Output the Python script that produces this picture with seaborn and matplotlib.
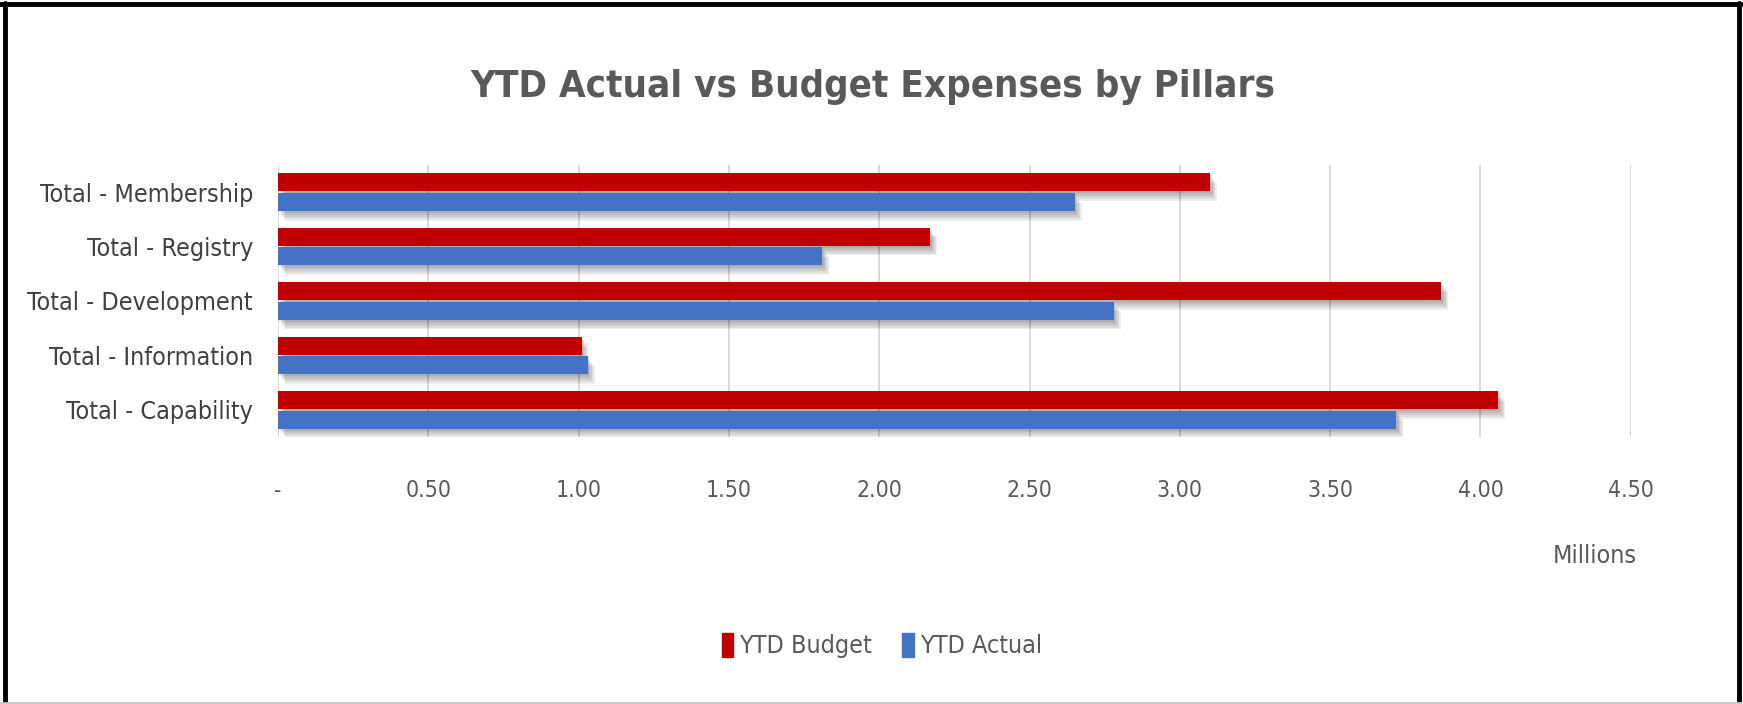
import matplotlib
matplotlib.use("Agg")
import matplotlib.pyplot as plt
import matplotlib.patheffects as pe
from matplotlib.lines import Line2D
from matplotlib.patches import Patch
import seaborn as sns
import pandas as pd

# Pillar expense figures, in millions
categories = ["Total - Membership", "Total - Registry", "Total - Development",
              "Total - Information", "Total - Capability"]
ytd_budget = [3.10, 2.17, 3.87, 1.01, 4.06]
ytd_actual = [2.65, 1.81, 2.78, 1.03, 3.72]
series_names = ["YTD Budget", "YTD Actual"]
x_ticks = [0, 0.5, 1.0, 1.5, 2.0, 2.5, 3.0, 3.5, 4.0, 4.5]
x_tick_labels = ["-", "0.50", "1.00", "1.50", "2.00", "2.50", "3.00", "3.50", "4.00", "4.50"]

df = pd.DataFrame({
    "pillar": categories * 2,
    "series": [series_names[0]] * len(categories) + [series_names[1]] * len(categories),
    "value": ytd_budget + ytd_actual,
})

sns.set_theme(style="white")
plt.rcParams["font.family"] = ["DejaVu Sans"]
plt.rcParams["font.stretch"] = "condensed"

RED = "#C00000"
BLUE = "#4472C4"

fig = plt.figure(figsize=(17.43, 7.04), dpi=100)
fig.patch.set_facecolor("white")
ax = fig.add_axes([0.1595, 0.3793, 0.7761, 0.3864])

sns.barplot(data=df, y="pillar", x="value", hue="series", hue_order=series_names,
            order=categories, palette=[RED, BLUE], orient="h", width=0.72, gap=0.08,
            saturation=1, legend=False, linewidth=0, ax=ax, zorder=3)

# Soft drop shadow under each bar, built from a few faint offset layers
shadow = [pe.SimplePatchShadow(offset=(o, -1.4 * o), shadow_rgbFace="#000000", alpha=0.07)
          for o in (1, 2, 3, 4, 5)] + [pe.Normal()]
for bar in ax.patches:
    bar.set_path_effects(shadow)

ax.set_xlim(0, 4.5)
ax.set_ylim(len(categories) - 0.5, -0.5)
ax.set_xticks(x_ticks)
ax.set_xticklabels(x_tick_labels)
ax.xaxis.grid(True, color="#D9D9D9", linewidth=1.4, zorder=0)
ax.yaxis.grid(False)
for s in ax.spines.values():
    s.set_visible(False)
ax.set_xlabel("")
ax.set_ylabel("")
ax.tick_params(axis="x", length=0, pad=30, labelsize=16.5, labelcolor="#595959")
ax.tick_params(axis="y", length=0, pad=18, labelsize=18, labelcolor="#404040")

fig.text(0.501, 0.876, "YTD Actual vs Budget Expenses by Pillars", ha="center", va="center",
         fontsize=27.5, fontweight="bold", color="#595959")
fig.text(0.939, 0.21, "Millions", ha="right", va="center", fontsize=18, color="#595959")

handles = [Patch(facecolor=c, edgecolor=c) for c in (RED, BLUE)]
fig.legend(handles, series_names, loc="center", bbox_to_anchor=(0.506, 0.083),
           ncol=2, frameon=False, fontsize=18, labelcolor="#595959",
           handletextpad=0.25, columnspacing=1.2, handlelength=0.45, handleheight=1.1)

# Frame round the whole chart
fig.add_artist(Line2D([0.003, 0.003], [0.0, 0.996], transform=fig.transFigure,
                      color="black", linewidth=3.5))
fig.add_artist(Line2D([0.0, 0.999], [0.995, 0.995], transform=fig.transFigure,
                      color="black", linewidth=3.5))
fig.add_artist(Line2D([0.9975, 0.9975], [0.0, 0.996], transform=fig.transFigure,
                      color="black", linewidth=3.5))
fig.add_artist(Line2D([0.0, 1.0], [0.002, 0.002], transform=fig.transFigure,
                      color="#C8C8C8", linewidth=2))

fig.savefig("out.png", dpi=100)
